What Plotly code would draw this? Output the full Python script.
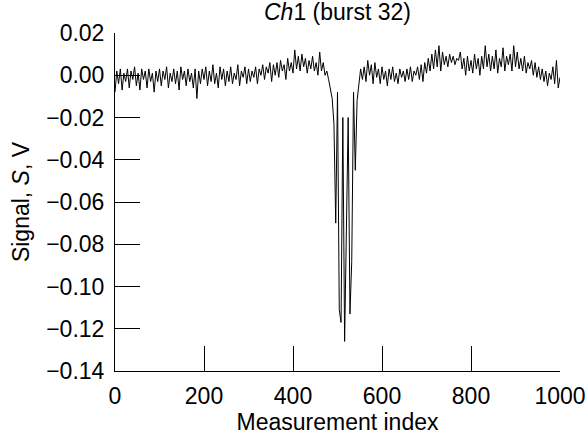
import plotly.graph_objects as go

# Signal sampled every 4th measurement index (V)
signal = [
    # 0-96
    -0.008, 0.002, -0.004, 0.003, -0.007, 0.001, -0.003, 0.003, -0.006, 0.002, -0.002, 0.004, -0.005,
    0.001, -0.007, 0.003, -0.002, 0.002, -0.006, 0.003, -0.003, 0.001, -0.008, 0.002, -0.003,
    # 100-196
    0.003, -0.005, 0.002, -0.002, 0.004, -0.006, 0.001, -0.003, 0.003, -0.004, 0.002, -0.007, 0.004,
    -0.002, 0.002, -0.005, 0.003, -0.003, 0.001, -0.006, 0.003, -0.011, 0.002, -0.004, 0.003,
    # 200-296
    -0.002, 0.004, -0.005, 0.002, -0.003, 0.005, -0.004, 0.001, -0.006, 0.004, -0.002, 0.003, -0.005,
    0.002, -0.003, 0.004, -0.004, 0.001, -0.002, 0.005, -0.005, 0.002, -0.001, 0.004, -0.004,
    # 300-396
    0.003, -0.003, 0.002, -0.001, 0.004, -0.004, 0.003, 0.000, 0.005, -0.002, 0.004, 0.001, 0.006,
    -0.003, 0.005, 0.000, 0.006, -0.001, 0.007, 0.002, 0.005, -0.002, 0.008, 0.002, 0.006,
    # 400-496
    0.001, 0.012, 0.003, 0.009, 0.002, 0.010, 0.004, 0.008, 0.001, 0.007, 0.003, 0.009, 0.002,
    0.006, 0.000, 0.011, 0.002, 0.006, 0.000, 0.002, -0.002, -0.006, -0.011, -0.023, -0.070,
    # 500-596
    -0.008, -0.111, -0.117, -0.020, -0.126, -0.070, -0.020, -0.113, -0.088, -0.008, -0.045, -0.012, -0.004,
    0.003, -0.002, 0.004, -0.003, 0.007, 0.000, 0.005, -0.004, 0.006, -0.001, 0.003, -0.004,
    # 600-696
    0.004, -0.002, 0.002, -0.005, 0.003, -0.002, 0.004, -0.003, 0.001, -0.004, 0.003, -0.001, 0.002,
    -0.003, 0.003, -0.002, 0.004, -0.003, 0.002, 0.000, 0.004, -0.002, 0.005, -0.003, 0.006,
    # 700-796
    0.001, 0.008, 0.002, 0.010, 0.003, 0.012, 0.004, 0.014, 0.002, 0.011, 0.005, 0.009, 0.004,
    0.010, 0.006, 0.009, 0.005, 0.008, 0.007, 0.011, 0.003, 0.008, 0.000, 0.009, 0.002,
    # 800-896
    0.007, 0.001, 0.010, 0.003, 0.008, 0.000, 0.009, 0.003, 0.014, 0.004, 0.010, 0.002, 0.009,
    0.003, 0.012, 0.001, 0.008, 0.004, 0.013, 0.002, 0.009, 0.005, 0.010, 0.002, 0.014,
    # 900-996
    0.004, 0.011, 0.003, 0.008, 0.002, 0.009, 0.001, 0.006, 0.003, 0.007, 0.000, 0.006, -0.001,
    0.004, -0.002, 0.003, -0.003, 0.002, -0.005, 0.001, -0.002, 0.004, -0.004, 0.007, -0.006,
    # 1000
    -0.001,
]
step = 4
index = [i * step for i in range(len(signal))]

x_ticks = [0, 200, 400, 600, 800, 1000]
y_ticks = [0.02, 0.00, -0.02, -0.04, -0.06, -0.08, -0.10, -0.12, -0.14]
y_tick_text = ["0.02", "0.00", "\u22120.02", "\u22120.04", "\u22120.06", "\u22120.08",
               "\u22120.10", "\u22120.12", "\u22120.14"]

FONT = "Liberation Sans, Arial, Helvetica, sans-serif"
FS = 23

fig = go.Figure(go.Scatter(x=index, y=signal, mode="lines",
                           line=dict(color="black", width=1)))

fig.update_layout(
    width=587, height=440,
    margin=dict(l=115, r=27, t=33, b=69, autoexpand=False),
    paper_bgcolor="white", plot_bgcolor="white",
    showlegend=False,
    font=dict(family=FONT, size=FS, color="black"),
    title=dict(text="<i>Ch</i>1 (burst 32)", x=0.5, xref="paper", xanchor="center",
               y=1 - 12 / 440, yref="container", yanchor="middle", automargin=False,
               font=dict(family=FONT, size=FS, color="black")),
)
fig.update_xaxes(
    range=[0, 1000], tickvals=x_ticks, ticks="inside", ticklen=25, tickwidth=1,
    tickcolor="black", showline=True, linecolor="black", linewidth=1,
    showgrid=False, zeroline=False, ticklabelstandoff=4, automargin=False,
    tickfont=dict(family=FONT, size=FS, color="black"),
    title=dict(text="Measurement index", standoff=2,
               font=dict(family=FONT, size=FS, color="black")),
)
fig.update_yaxes(
    range=[-0.14, 0.02], tickvals=y_ticks, ticktext=y_tick_text, ticks="inside",
    ticklen=25, tickwidth=1, tickcolor="black", showline=True, linecolor="black",
    linewidth=1, showgrid=False, zeroline=False, ticklabelstandoff=5, automargin=False,
    tickfont=dict(family=FONT, size=FS, color="black"),
    title=dict(text="Signal, <i>S</i>, V", standoff=10,
               font=dict(family=FONT, size=FS, color="black")),
)

fig.write_html("out.html")
